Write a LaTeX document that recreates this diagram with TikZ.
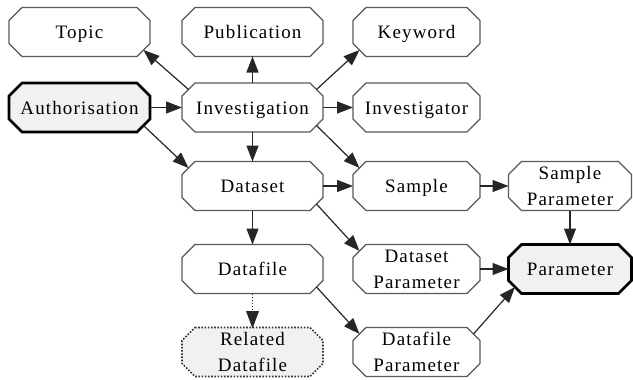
\documentclass[tikz,border=0pt]{standalone}
\usepackage{fontspec}
\setmainfont{Liberation Serif}[LetterSpace=6]
\usetikzlibrary{arrows.meta,calc}
\definecolor{boxgray}{HTML}{F1F1F1}
\pgfdeclarelayer{background}
\pgfsetlayers{background,main}
\begin{document}
\begin{tikzpicture}[x=1pt,y=-1pt,
  entity/.style={rectangle, inner sep=0pt, outer sep=0pt,
    minimum width=141pt, minimum height=49pt,
    font=\fontsize{19}{26}\selectfont, align=center,
    text height=13pt, text depth=0pt},
  twoline/.style={text height=39pt},
  narrow/.style={minimum width=127pt},
  slim/.style={minimum width=123pt},
  octplain/.style={draw=black!65, line width=1.4pt, fill=white},
  octcore/.style={draw=black, line width=2.6pt, fill=boxgray},
  octrelated/.style={draw=black!80, line width=1.6pt, dash pattern=on 1.6pt off 1.6pt, fill=boxgray},
  link/.style={draw=black!85, line width=1.2pt},
  conn/.style={link, -{Triangle[length=16pt,width=12pt]}},
  headfill/.style={fill=black!85},
]
\useasboundingbox (0,0) rectangle (633,380);

% entities
\node[entity]              (topic) at (79.5,32)   {Topic};
\node[entity]              (pub)   at (252.5,32)  {Publication};
\node[entity,narrow]       (kw)    at (416.5,32)  {Keyword};
\node[entity]              (auth)  at (79.5,107.5) {Authorisation};
\node[entity]              (inv)   at (252.5,107.5) {Investigation};
\node[entity,narrow]       (invr)  at (416.5,107.5) {Investigator};
\node[entity]              (ds)    at (252.5,186) {Dataset};
\node[entity,narrow]       (smp)   at (416.5,186) {Sample};
\node[entity,slim,twoline] (sp)    at (570,186)   {Sample\\Parameter};
\node[entity]              (df)    at (252.5,269) {Datafile};
\node[entity,narrow,twoline] (dsp) at (416.5,269) {Dataset\\Parameter};
\node[entity,slim]         (par)   at (570,269)   {Parameter};
\node[entity,twoline]      (reldf) at (252.5,352) {Related\\Datafile};
\node[entity,narrow,twoline] (dfp) at (416.5,352) {Datafile\\Parameter};

% octagonal outlines behind the labels
\def\cut{13}
\begin{pgfonlayer}{background}
\foreach \n/\st in {topic/octplain, pub/octplain, kw/octplain, auth/octcore,
    inv/octplain, invr/octplain, ds/octplain, smp/octplain, sp/octplain,
    df/octplain, dsp/octplain, par/octcore, reldf/octrelated, dfp/octplain}
  \path[\st] ($(\n.north west)+(\cut,0)$) -- ($(\n.north east)+(-\cut,0)$)
    -- ($(\n.north east)+(0,\cut)$) -- ($(\n.south east)+(0,-\cut)$)
    -- ($(\n.south east)+(-\cut,0)$) -- ($(\n.south west)+(\cut,0)$)
    -- ($(\n.south west)+(0,-\cut)$) -- ($(\n.north west)+(0,\cut)$) -- cycle;
\end{pgfonlayer}

% midpoints of the cut corners
\foreach \n in {auth,inv,ds,df,topic,kw,smp,dsp,dfp,par} {
  \coordinate (\n-nw) at ($(\n.north west)+(.5*\cut,.5*\cut)$);
  \coordinate (\n-ne) at ($(\n.north east)+(-.5*\cut,.5*\cut)$);
  \coordinate (\n-sw) at ($(\n.south west)+(.5*\cut,-.5*\cut)$);
  \coordinate (\n-se) at ($(\n.south east)+(-.5*\cut,-.5*\cut)$);
}
% ends of the dotted shaft and of its solid head
\coordinate (dftip)  at ($(df.south)!1!(reldf.north)$);
\coordinate (dfbase) at ($(dftip)+(0,-16)$);

% relations
\draw[conn] (auth) -- (inv);
\draw[conn] (auth-se) -- (ds-nw);
\draw[conn] (inv-nw) -- (topic-se);
\draw[conn] (inv) -- (pub);
\draw[conn] (inv-ne) -- (kw-sw);
\draw[conn] (inv) -- (invr);
\draw[conn] (inv) -- (ds);
\draw[conn] (inv-se) -- (smp-nw);
\draw[conn] (ds) -- (smp);
\draw[conn] (ds-se) -- (dsp-nw);
\draw[conn] (ds) -- (df);
\draw[link, dash pattern=on 1.5pt off 1.5pt] (df.south) -- (dfbase);
\filldraw[headfill, draw=black!85, line width=0.6pt]
  (dftip) -- ($(dfbase)+(-6,0)$) -- ($(dfbase)+(6,0)$) -- cycle;
\draw[conn] (df-se) -- (dfp-nw);
\draw[conn] (smp) -- (sp);
\draw[conn] (sp) -- (par);
\draw[conn] (dsp) -- (par);
\draw[conn] (dfp-ne) -- (par-sw);
\end{tikzpicture}
\end{document}
